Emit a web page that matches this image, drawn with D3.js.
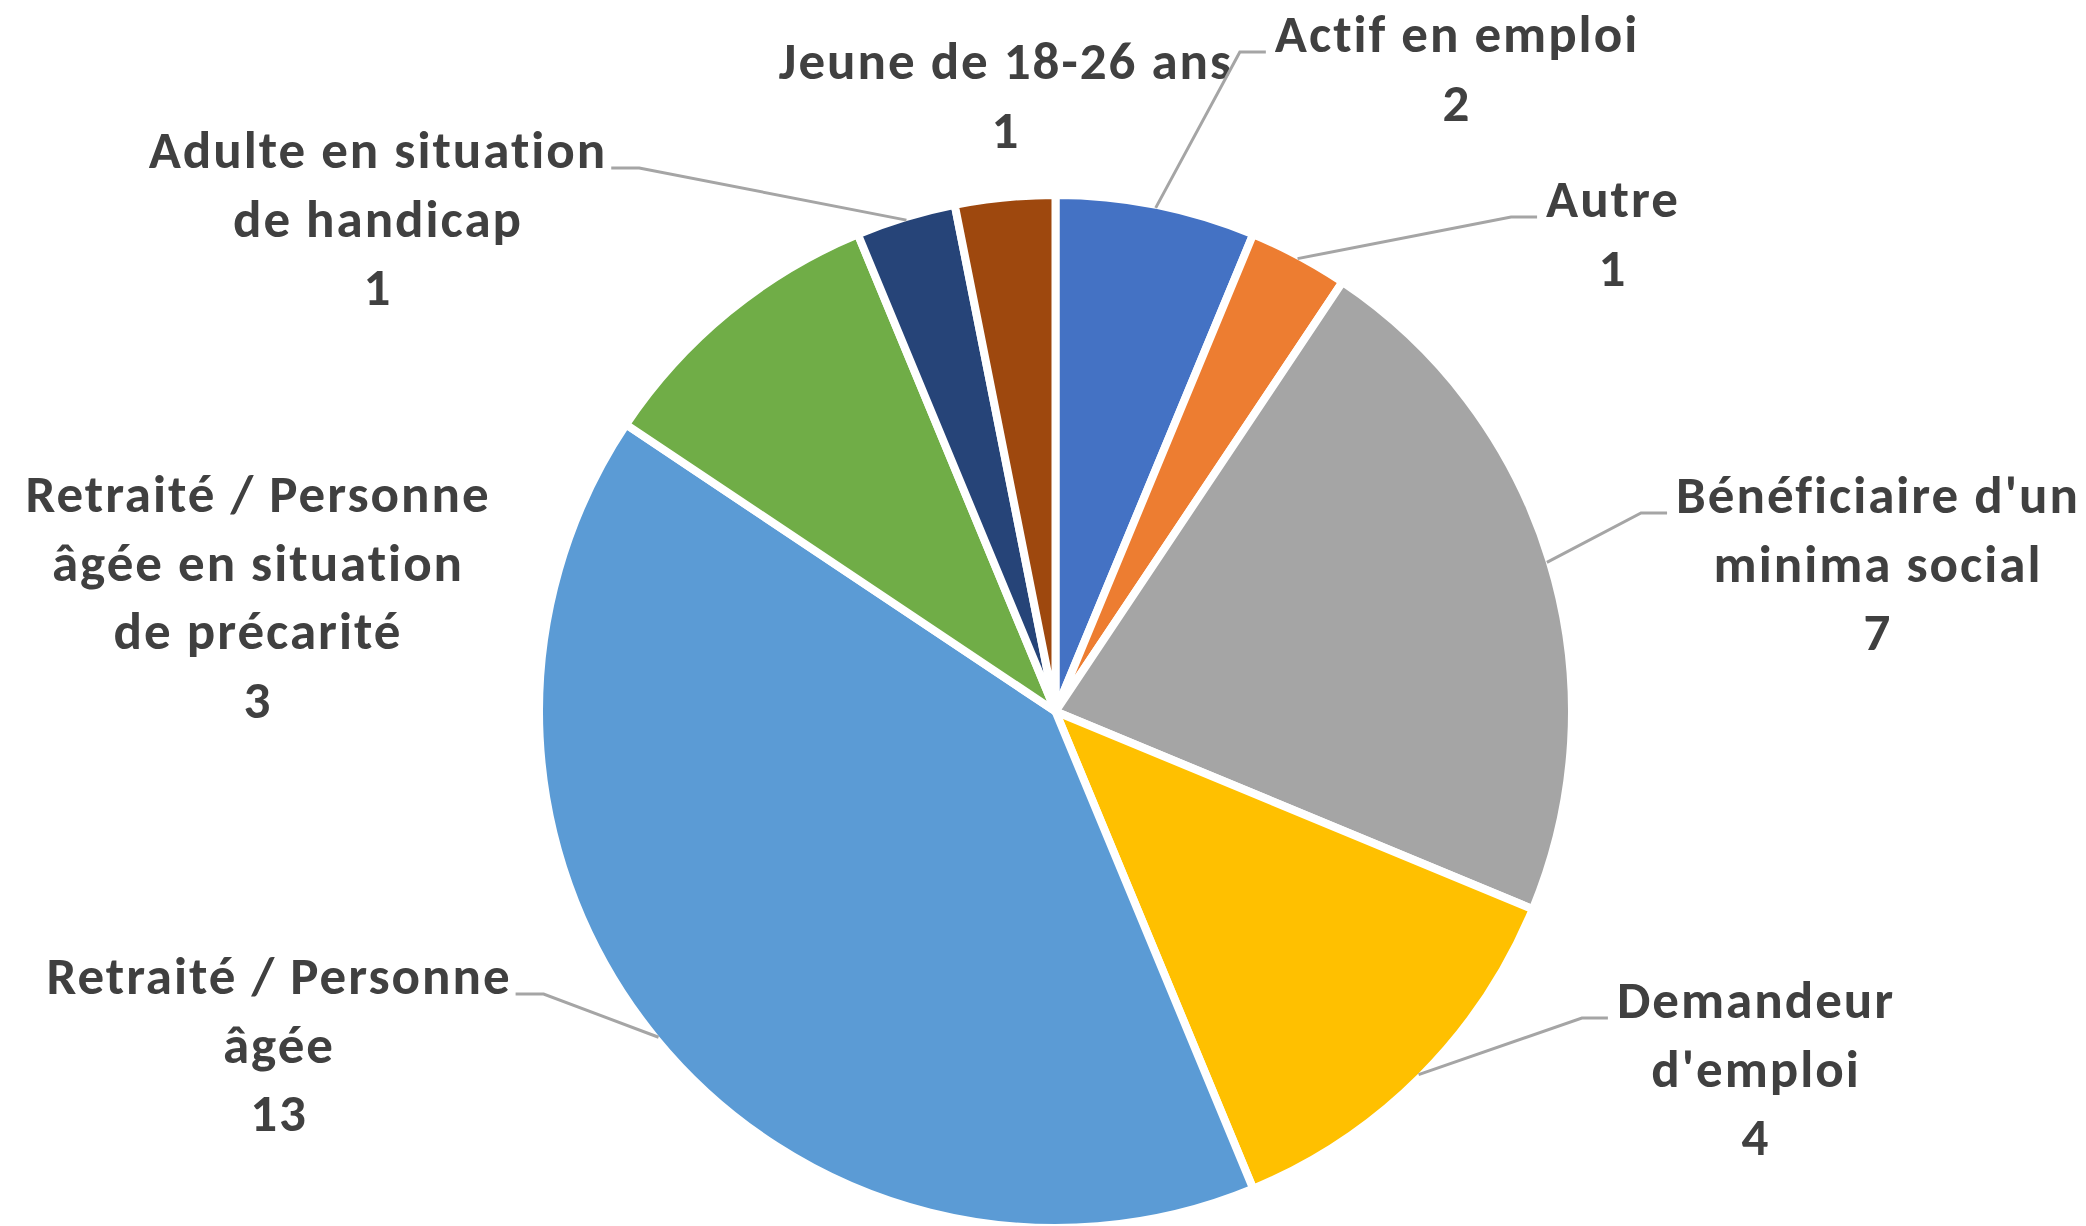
<!DOCTYPE html>
<html><head><meta charset="utf-8">
<script src="https://cdn.jsdelivr.net/npm/d3@7"></script>
<style>html,body{margin:0;padding:0;background:#fff;} svg{display:block}</style>
</head><body>
<script>
// ---- data ----
const categories = ["Actif en emploi", "Autre", "Bénéficiaire d'un minima social", "Demandeur d'emploi",
  "Retraité / Personne âgée", "Retraité / Personne âgée en situation de précarité",
  "Adulte en situation de handicap", "Jeune de 18-26 ans"];
const values = [2, 1, 7, 4, 13, 3, 1, 1];
const labelLines = [["Actif en emploi"], ["Autre"], ["Bénéficiaire d'un", "minima social"], ["Demandeur", "d'emploi"],
  ["Retraité / Personne", "âgée"], ["Retraité / Personne", "âgée en situation", "de précarité"],
  ["Adulte en situation", "de handicap"], ["Jeune de 18-26 ans"]];
const colors = ["#4472C4", "#ED7D31", "#A5A5A5", "#FFC000", "#5B9BD5", "#70AD47", "#264478", "#9E480E"];

// ---- layout ----
const W = 2086, H = 1226, cx = 1055.5, cy = 711.5, R = 516.5;
const lineH = 68.5;
const labelLayout = [
  {x: 1456, y: 52, side: "right"},
  {x: 1612, y: 217, side: "right"},
  {x: 1877, y: 513, side: "right"},
  {x: 1755, y: 1018, side: "right"},
  {x: 278, y: 994, side: "left"},
  {x: 257, y: 512, side: null},
  {x: 377, y: 168, side: "left"},
  {x: 1005, y: 79, side: null}
];
const letterSp = 2;

const data = categories.map((c, i) => ({cat: c, value: values[i], lines: labelLines[i], color: colors[i], i}));

const svg = d3.select("body").append("svg").attr("width", W).attr("height", H);
const g = svg.append("g").attr("transform", `translate(${cx},${cy})`);

const pie = d3.pie().value(d => d.value).sort(null);
const arcs = pie(data);
const arc = d3.arc().innerRadius(0).outerRadius(R);
const edgeArc = d3.arc().innerRadius(R - 3).outerRadius(R - 3);

g.selectAll("path.slice").data(arcs).join("path")
  .attr("class", "slice")
  .attr("d", arc)
  .attr("fill", d => d.data.color)
  .attr("stroke", "#fff")
  .attr("stroke-width", 8)
  .attr("stroke-linejoin", "round");

// labels
const lg = svg.append("g")
  .attr("font-family", "Calibri, Carlito, Lato, 'Noto Sans', sans-serif")
  .attr("font-weight", "bold")
  .attr("font-size", 53)
  .attr("letter-spacing", letterSp)
  .attr("fill", "#404040");

const leaderG = svg.append("g").attr("fill", "none").attr("stroke", "#A5A5A5").attr("stroke-width", 3);

arcs.forEach(a => {
  const d = a.data, L = labelLayout[d.i];
  const t = lg.append("text").attr("text-anchor", "middle");
  const lines = d.lines.concat([String(d.value)]);
  lines.forEach((ln, k) => {
    t.append("tspan").attr("x", L.x + letterSp / 2).attr("y", L.y + k * lineH).text(ln);
  });
  if (L.side) {
    const first = t.select("tspan").node();
    const w = first.getComputedTextLength() - letterSp;
    const [ex, ey] = edgeArc.centroid(a);
    const end = [cx + ex, cy + ey];
    let s0, s1;
    if (L.side === "right") { s0 = L.x - w / 2 - 9; s1 = s0 - 26; }
    else { s0 = L.x + w / 2 + 6; s1 = s0 + 28; }
    leaderG.append("path")
      .attr("d", d3.line()([[s0, L.y], [s1, L.y], end]));
  }
});
</script>
</body></html>
